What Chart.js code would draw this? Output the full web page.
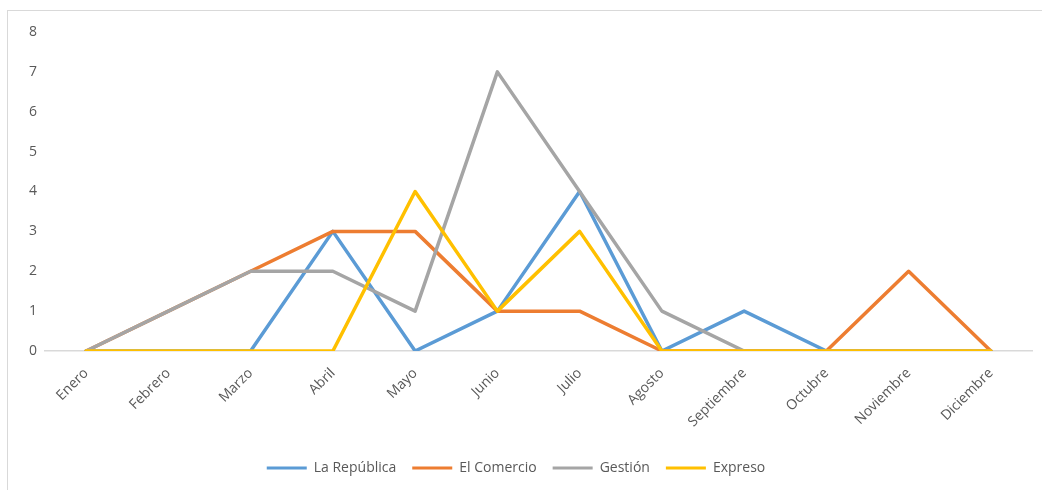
<!DOCTYPE html>
<html>
<head>
<meta charset="utf-8">
<script src="https://cdn.jsdelivr.net/npm/chart.js@4"></script>
<style>
  html, body { margin: 0; padding: 0; background: #fff; }
  #wrap { position: relative; width: 1042px; height: 490px; overflow: hidden; }
  #frame { position: absolute; left: 7px; top: 10px; width: 1100px; height: 600px;
           border-left: 1px solid #d9d9d9; border-top: 1px solid #d9d9d9; }
  canvas { position: absolute; left: 0; top: 0; }
</style>
</head>
<body>
<div id="wrap">
  <div id="frame"></div>
  <canvas id="line" width="1042" height="490"></canvas>
</div>
<script>
// meses
const meses = ["Enero", "Febrero", "Marzo", "Abril", "Mayo", "Junio", "Julio",
    "Agosto", "Septiembre", "Octubre", "Noviembre", "Diciembre"];

// valores por diario
const laRepublica = [0, 0, 0, 3, 0, 1, 4, 0, 1, 0, 0, 0];
const elComercio  = [0, 1, 2, 3, 3, 1, 1, 0, 0, 0, 2, 0];
const gestion     = [0, 1, 2, 2, 1, 7, 4, 1, 0, 0, 0, 0];
const expreso     = [0, 0, 0, 0, 4, 1, 3, 0, 0, 0, 0, 0];

const yMax = 8;

const fuente = "'Open Sans', sans-serif";
const gris = "#595959";

function serie(label, data, color, orden) {
    return {
        label: label,
        data: data,
        borderColor: color,
        backgroundColor: color,
        borderWidth: 3.5,
        borderJoinStyle: 'round',
        borderCapStyle: 'round',
        pointRadius: 0,
        pointHoverRadius: 0,
        tension: 0,
        fill: false,
        order: orden
    };
}

const ctx = document.getElementById("line").getContext("2d");

const chart = new Chart(ctx, {
    type: 'line',
    data: {
        labels: meses,
        datasets: [
            serie('La República', laRepublica, '#5B9BD5', 4),
            serie('El Comercio', elComercio, '#ED7D31', 3),
            serie('Gestión', gestion, '#A5A5A5', 2),
            serie('Expreso', expreso, '#FFC000', 1)
        ]
    },
    options: {
        responsive: false,
        animation: false,
        layout: { padding: { top: 32, right: 10, bottom: 5, left: 0 } },
        plugins: {
            tooltip: { enabled: false },
            legend: {
                position: 'bottom',
                labels: {
                    font: { family: fuente, size: 14 },
                    color: gris,
                    boxWidth: 40,
                    boxHeight: 3,
                    padding: 16,
                    sort: (a, b) => a.datasetIndex - b.datasetIndex,
                    generateLabels: (c) => c.data.datasets.map((ds, i) => ({
                        text: ds.label,
                        fillStyle: ds.borderColor,
                        strokeStyle: ds.borderColor,
                        lineWidth: 0,
                        fontColor: gris,
                        datasetIndex: i
                    }))
                }
            }
        },
        scales: {
            x: {
                offset: true,
                grid: { display: false, offset: true },
                border: { display: true, color: '#d9d9d9', width: 1.5 },
                ticks: {
                    font: { family: fuente, size: 14 },
                    color: gris,
                    maxRotation: 45,
                    minRotation: 45,
                    autoSkip: false,
                    padding: 6
                },
                afterFit: (s) => { s.height = 94; }
            },
            y: {
                min: 0,
                max: yMax,
                grid: { display: false },
                border: { display: false },
                ticks: {
                    stepSize: 1,
                    font: { family: fuente, size: 14 },
                    color: gris,
                    crossAlign: 'center',
                    padding: 0
                },
                afterFit: (s) => { s.width = 45; }
            }
        }
    }
});
</script>
</body>
</html>
